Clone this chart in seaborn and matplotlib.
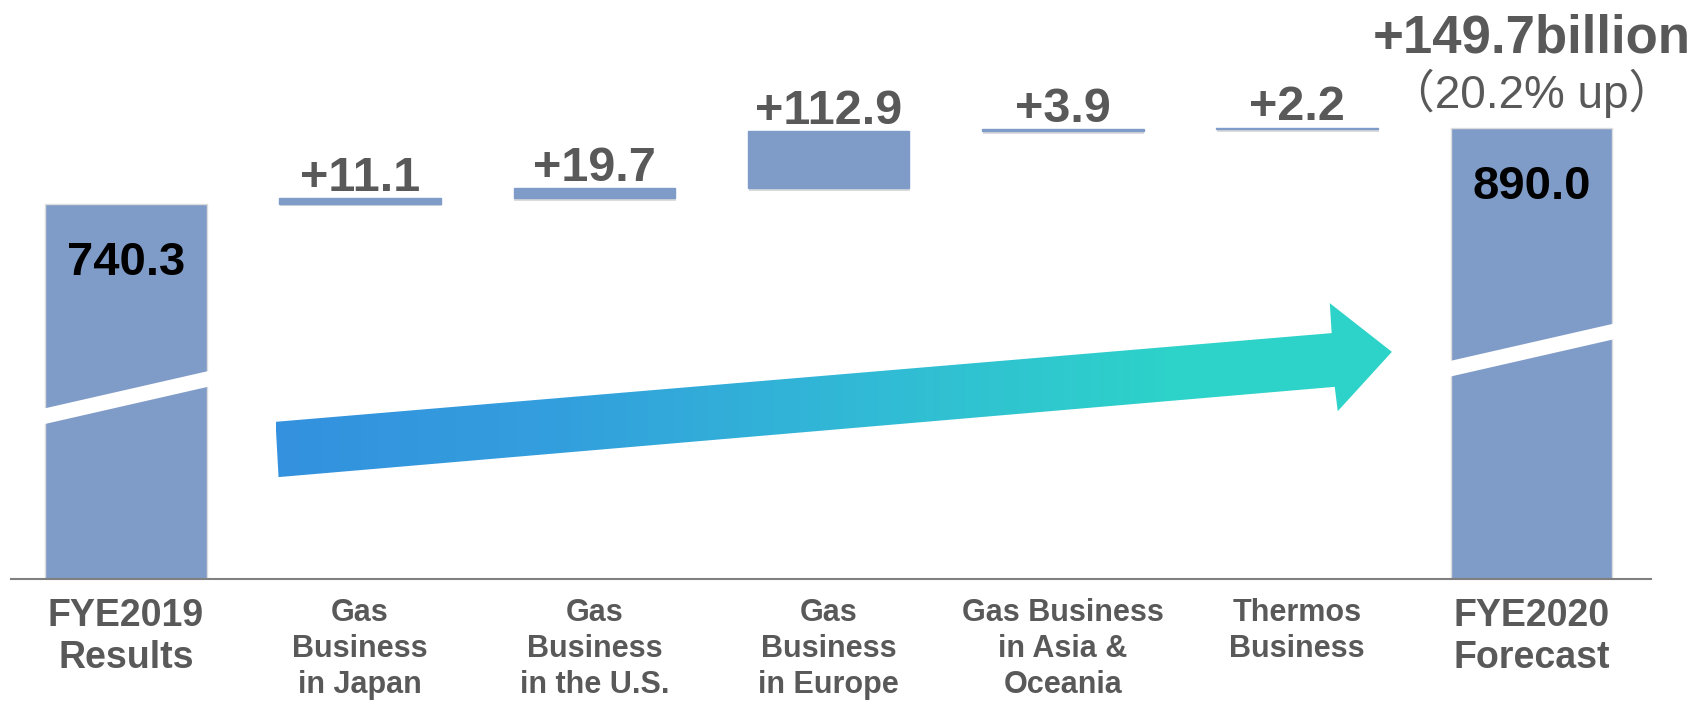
import numpy as np
import pandas as pd
import matplotlib
matplotlib.use("Agg")
import matplotlib.pyplot as plt
import matplotlib.patheffects as pe
from matplotlib.colors import LinearSegmentedColormap
from matplotlib.patches import Polygon
import seaborn as sns

# data
categories = ["FYE2019\nResults", "Gas\nBusiness\nin Japan", "Gas\nBusiness\nin the U.S.",
              "Gas\nBusiness\nin Europe", "Gas Business\nin Asia &\nOceania",
              "Thermos\nBusiness", "FYE2020\nForecast"]
start_value = 740.3
deltas = [11.1, 19.7, 112.9, 3.9, 2.2]
end_value = 890.0
value_labels = ["740.3", "+11.1", "+19.7", "+112.9", "+3.9", "+2.2", "890.0"]
total_label = "+149.7billion"
total_sub = "（20.2% up）"

tops = [start_value]
bases = [0.0]
running = start_value
for d in deltas:
    bases.append(running)
    running += d
    tops.append(running)
tops.append(end_value)
bases.append(0.0)

df = pd.DataFrame({"item": categories, "top": tops, "base": bases})
df["height"] = df["top"] - df["base"]

bar_color = "#7F9BC7"
gray = "#595959"

sns.set_theme(style="white")
plt.rcParams["font.family"] = ["Liberation Sans", "DejaVu Sans"]

fig = plt.figure(figsize=(16.97, 7.03), dpi=100)
ax = fig.add_axes([11 / 1697, 1 - 579 / 703, 1640 / 1697, 579 / 703])

sns.barplot(data=df, x="item", y="height", bottom=df["base"].values, color=bar_color,
            saturation=1, width=0.69, edgecolor="#dcdcdc", linewidth=1, ax=ax, zorder=2)
for i, p in enumerate(ax.patches):
    if 0 < i < len(categories) - 1:
        p.set_edgecolor(bar_color)
    p.set_path_effects([pe.SimplePatchShadow(offset=(0.5, -2), shadow_rgbFace="#888888",
                                             alpha=0.3), pe.Normal()])

# break marks on the two totals
for i, frac in [(0, 0.483), (6, 0.507)]:
    mid = tops[i] * frac
    ax.plot([i - 0.37, i + 0.37], [mid - 39, mid + 39], color="white", lw=11,
            solid_capstyle="butt", zorder=3)

# gradient arrow
arrow_pts = np.array([[0.639, 310], [5.147, 485], [5.139, 544], [5.404, 448],
                      [5.173, 331], [5.160, 379], [0.652, 201]])
cmap = LinearSegmentedColormap.from_list("arr", [(0, "#3391df"), (0.25, "#339fdd"),
                                                  (0.55, "#31bcd5"), (0.8, "#2dd2c9"),
                                                  (1, "#2dd4c8")])
poly = Polygon(arrow_pts, closed=True, facecolor="none", edgecolor="none")
ax.add_patch(poly)
img = ax.imshow(np.linspace(0, 1, 256).reshape(1, -1), cmap=cmap, aspect="auto",
                extent=[arrow_pts[:, 0].min(), arrow_pts[:, 0].max(),
                        arrow_pts[:, 1].min(), arrow_pts[:, 1].max()],
                zorder=4, interpolation="bilinear")
img.set_clip_path(poly)

# value labels
for i, lab in enumerate(value_labels):
    if i in (0, len(value_labels) - 1):
        ax.annotate(lab, (i, tops[i]), xytext=(0, -43), textcoords="offset points",
                    ha="center", va="center", fontsize=34, fontweight="bold",
                    color="black", zorder=5)
    else:
        ax.annotate(lab, (i, tops[i]), xytext=(0, -2), textcoords="offset points",
                    ha="center", va="bottom", fontsize=35, fontweight="bold",
                    color=gray, zorder=5)

ax.annotate(total_label, (6, end_value), xytext=(0, 64), textcoords="offset points",
            ha="center", va="center", fontsize=38, fontweight="bold", color=gray)
ax.annotate(total_sub, (6, end_value), xytext=(0, 25), textcoords="offset points",
            ha="center", va="center", fontsize=33, color=gray,
            family=["Liberation Sans", "Noto Sans CJK JP"])

ax.set_xlim(-0.49, 6.51)
ax.set_ylim(0, 1142)
ax.set_xlabel("")
ax.set_ylabel("")
ax.set_yticks([])
ax.tick_params(axis="x", length=0, pad=14)
for i, t in enumerate(ax.get_xticklabels()):
    t.set_fontweight("bold")
    t.set_color(gray)
    if i in (0, 6):
        t.set_fontsize(27)
        t.set_linespacing(1.2)
    else:
        t.set_fontsize(22)
        t.set_linespacing(1.25)

for s in ["top", "left", "right"]:
    ax.spines[s].set_visible(False)
ax.spines["bottom"].set_color("#808080")
ax.spines["bottom"].set_linewidth(1.5)

fig.savefig("out.png", dpi=100)
